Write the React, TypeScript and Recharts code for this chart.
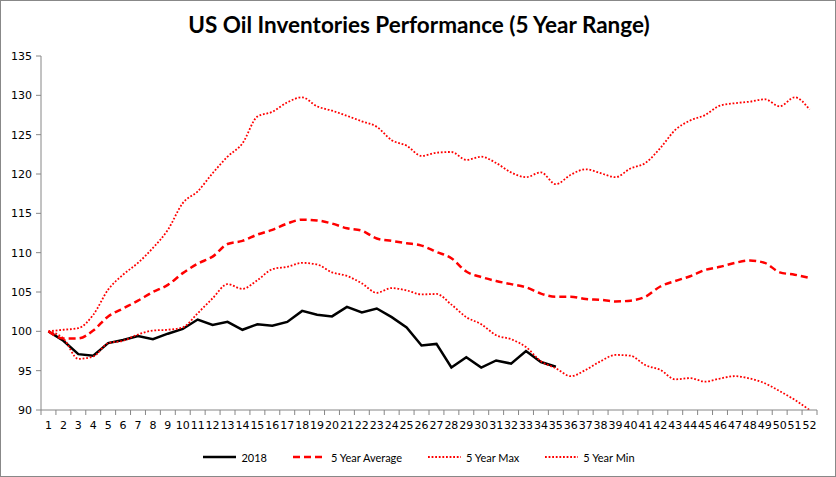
import { LineChart, Line, XAxis, YAxis } from 'recharts';

const WEEKS = ['1', '2', '3', '4', '5', '6', '7', '8', '9', '10', '11', '12', '13', '14', '15', '16', '17', '18', '19', '20', '21', '22', '23', '24', '25', '26', '27', '28', '29', '30', '31', '32', '33', '34', '35', '36', '37', '38', '39', '40', '41', '42', '43', '44', '45', '46', '47', '48', '49', '50', '51', '52'];

const Y2018 = [100, 98.8, 97.1, 96.9, 98.5, 98.9, 99.4, 99.0, 99.7, 100.3, 101.5, 100.8, 101.2, 100.2, 100.9, 100.7, 101.2, 102.6, 102.1, 101.9, 103.1, 102.4, 102.9, 101.8, 100.5, 98.2, 98.4, 95.4, 96.7, 95.4, 96.3, 95.9, 97.5, 96.1, 95.5];

const AVG5 = [100, 99.1, 99.1, 100.1, 101.9, 102.9, 103.9, 105.0, 105.9, 107.4, 108.6, 109.5, 111.1, 111.5, 112.3, 112.9, 113.7, 114.2, 114.1, 113.7, 113.1, 112.8, 111.8, 111.5, 111.2, 110.9, 110.1, 109.3, 107.6, 106.9, 106.4, 106.0, 105.6, 104.8, 104.4, 104.4, 104.1, 104.0, 103.8, 103.9, 104.4, 105.7, 106.4, 107.0, 107.8, 108.2, 108.7, 109.0, 108.7, 107.5, 107.2, 106.8];

const MAX5 = [100, 100.2, 100.4, 102.1, 105.3, 107.2, 108.7, 110.6, 112.9, 116.3, 117.8, 120.1, 122.2, 123.9, 127.3, 127.9, 129.1, 129.75, 128.6, 128.05, 127.4, 126.7, 126.0, 124.3, 123.6, 122.3, 122.7, 122.8, 121.8, 122.2, 121.4, 120.2, 119.6, 120.2, 118.7, 119.9, 120.6, 120.1, 119.6, 120.7, 121.4, 123.3, 125.6, 126.8, 127.5, 128.7, 129.0, 129.2, 129.5, 128.6, 129.75, 128.2];

const MIN5 = [100, 99.1, 96.5, 96.8, 98.5, 98.8, 99.6, 100.1, 100.2, 100.5, 102.3, 104.2, 106.0, 105.4, 106.5, 107.9, 108.2, 108.7, 108.5, 107.5, 107.05, 106.1, 104.9, 105.5, 105.2, 104.7, 104.75, 103.4, 101.8, 100.9, 99.5, 99.0, 98.0, 96.2, 95.3, 94.3, 95.1, 96.2, 97.0, 96.9, 95.7, 95.1, 93.9, 94.05, 93.6, 94.0, 94.3, 94.0, 93.4, 92.4, 91.3, 90.0];

const Y_TICKS = [90, 95, 100, 105, 110, 115, 120, 125, 130, 135];

const SERIES = [
  { key: 'y2018', name: '2018', color: '#000000', width: 2.5, dash: undefined, type: 'linear' },
  { key: 'avg', name: '5 Year Average', color: '#FF0000', width: 2.5, dash: '7 4', type: 'monotone' },
  { key: 'max', name: '5 Year Max', color: '#FF0000', width: 1.8, dash: '1.8 1.8', type: 'monotone' },
  { key: 'min', name: '5 Year Min', color: '#FF0000', width: 1.8, dash: '1.8 1.8', type: 'monotone' },
] as const;

const data = WEEKS.map((w, i) => ({
  week: w,
  y2018: i < Y2018.length ? Y2018[i] : null,
  avg: AVG5[i],
  max: MAX5[i],
  min: MIN5[i],
}));

const BAND = 776 / WEEKS.length;
const AXIS_GRAY = '#868686';

function WeekTick(props: any) {
  const { x, y, payload, index } = props;
  const left = x - BAND / 2;
  return (
    <g>
      <line x1={left} y1={y - 8} x2={left} y2={y - 3} stroke={AXIS_GRAY} />
      {index === WEEKS.length - 1 && (
        <line x1={x + BAND / 2} y1={y - 8} x2={x + BAND / 2} y2={y - 3} stroke={AXIS_GRAY} />
      )}
      <text x={x} y={y + 11} textAnchor="middle" fontSize={11} fontFamily="DejaVu Sans" fill="#000">
        {payload.value}
      </text>
    </g>
  );
}

export default function App() {
  return (
    <div
      style={{
        position: 'fixed',
        left: 0,
        top: 0,
        width: 836,
        height: 477,
        background: '#fff',
        border: '1px solid #888',
        boxSizing: 'border-box',
        fontFamily: 'Lato, sans-serif',
      }}
    >
      <div
        style={{
          position: 'absolute',
          top: 10,
          left: 0,
          width: 836,
          textAlign: 'center',
          fontSize: 22.5,
          fontWeight: 700,
          color: '#000',
        }}
      >
        US Oil Inventories Performance (5 Year Range)
      </div>
      <div style={{ position: 'absolute', left: -1, top: -1 }}>
        <LineChart width={836} height={477} data={data} margin={{ top: 56, right: 19, bottom: 37, left: 0 }}>
          <XAxis
            dataKey="week"
            interval={0}
            tickLine={false}
            stroke={AXIS_GRAY}
            height={30}
            tick={<WeekTick />}
            padding={{ left: BAND / 2, right: BAND / 2 }}
          />
          <YAxis
            type="number"
            domain={[90, 135]}
            ticks={Y_TICKS}
            interval={0}
            width={41}
            stroke={AXIS_GRAY}
            tickSize={5}
            tickMargin={4}
            allowDataOverflow
            tick={{ fontSize: 11, fontFamily: 'DejaVu Sans', fill: '#000' }}
          />
          {SERIES.map((s) => (
            <Line
              key={s.key}
              dataKey={s.key}
              name={s.name}
              type={s.type}
              stroke={s.color}
              strokeWidth={s.width}
              strokeDasharray={s.dash}
              dot={false}
              activeDot={false}
              isAnimationActive={false}
            />
          ))}
        </LineChart>
      </div>
      <div
        style={{
          position: 'absolute',
          top: 449,
          left: 0,
          width: 836,
          display: 'flex',
          justifyContent: 'center',
          gap: 26,
          fontSize: 11,
          color: '#000',
        }}
      >
        {SERIES.map((s) => (
          <span key={s.key} style={{ display: 'flex', alignItems: 'center', gap: 5 }}>
            <svg width={33} height={14}>
              <line x1={0} y1={7} x2={33} y2={7} stroke={s.color} strokeWidth={s.width} strokeDasharray={s.dash} />
            </svg>
            {s.name}
          </span>
        ))}
      </div>
    </div>
  );
}
